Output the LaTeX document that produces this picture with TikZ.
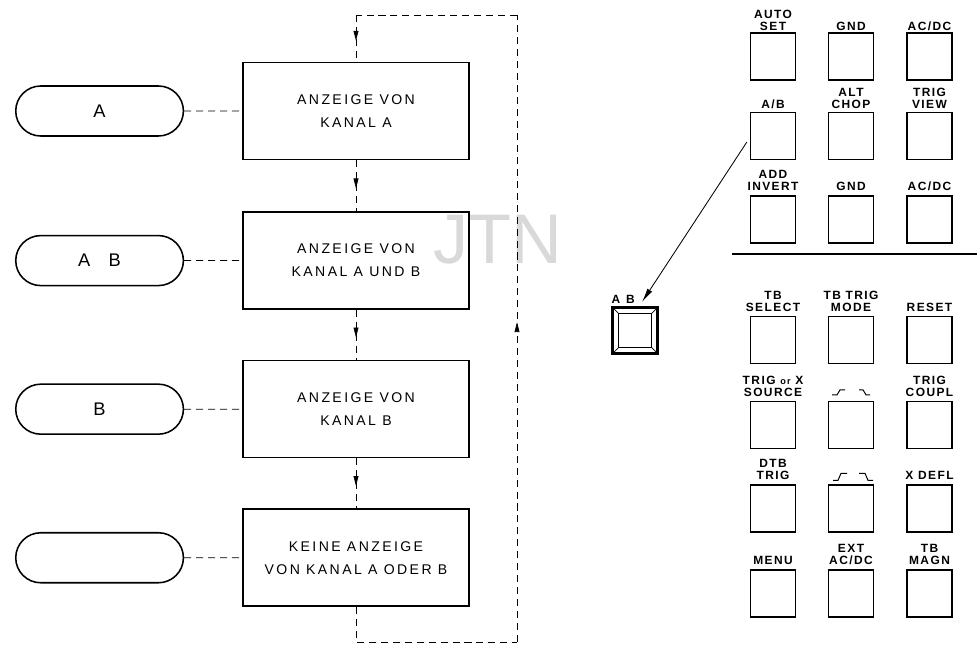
\documentclass[tikz,border=0pt]{standalone}
\usepackage{fontspec}
\setmainfont{Liberation Sans}
\newfontfamily\boxfont[LetterSpace=17]{Liberation Sans}
\newfontfamily\keyfont[LetterSpace=12]{Liberation Sans}
\usetikzlibrary{arrows.meta,positioning,shapes.misc,decorations.markings}

\begin{document}
\begin{tikzpicture}[
    x=0.025cm, y=0.025cm,
    >=Stealth,
    pill/.style={draw, rounded rectangle, line width=1.1pt, minimum width=4.425cm,
      minimum height=1.25cm, font=\fontsize{13}{15}\selectfont},
    flowbox/.style={draw, line width=1.1pt, minimum width=5.65cm, minimum height=2.425cm,
      align=center, font=\boxfont\fontsize{10}{16.4}\selectfont},
    dline/.style={dash pattern=on 5pt off 3.5pt, line width=0.5pt},
    midarrow/.style={postaction={decorate}, decoration={markings,
      mark=at position #1 with {\arrow{Triangle[length=7pt,width=3.5pt]}}}},
    key/.style={draw, line width=0.9pt, minimum width=1.125cm, minimum height=1.175cm},
    keylbl/.style={font=\keyfont\bfseries\fontsize{8.5}{8.7}\selectfont, align=center, inner sep=0pt},
    wave/.style={line width=0.7pt},
    pointer/.style={-{Latex[length=10pt,width=4pt]}, line width=0.6pt},
  ]
    \useasboundingbox (0,0) rectangle (977,645);

    % Watermark
    \node[text=black!15, font=\fontsize{50}{50}\selectfont] (wm) at (498,405) {JTN};

    % Display boxes
    \node[flowbox] (b1) at (356,534) {ANZEIGE VON\\KANAL A};
    \node[flowbox, below=1.275cm of b1] (b2) {ANZEIGE VON\\KANAL A UND B};
    \node[flowbox, below=1.25cm of b2] (b3) {ANZEIGE VON\\KANAL B};
    \node[flowbox, below=1.25cm of b3] (b4) {KEINE ANZEIGE\\VON KANAL A ODER B};

    % Key states
    \node[pill, left=1.45cm of b1] (p1) {A};
    \node[pill, left=1.45cm of b2] (p2) {A\quad B};
    \node[pill, left=1.45cm of b3] (p3) {B};
    \node[pill, left=1.45cm of b4] (p4) {};

    \draw[dline] (p1) -- (b1);
    \draw[dline] (p2) -- (b2);
    \draw[dline] (p3) -- (b3);
    \draw[dline] (p4) -- (b4);

    % Sequence
    \draw[dline, midarrow=0.55] (b1) -- (b2);
    \draw[dline, midarrow=0.55] (b2) -- (b3);
    \draw[dline, midarrow=0.55] (b3) -- (b4);

    % Return loop
    \coordinate (top) at (356,630);
    \coordinate (tr) at (517,630);
    \coordinate (br) at (517,3);
    \coordinate (bot) at (356,3);
    \draw[dline] (b4) -- (bot) -- (br);
    \draw[dline, midarrow=0.51] (br) -- (tr);
    \draw[dline] (tr) -- (top);
    \draw[dline, midarrow=0.55] (top) -- (b1);

    % Upper key block
    \node[key] (k11) at (773,588.5) {};
    \node[key] (k12) at (851,588.5) {};
    \node[key] (k13) at (929.5,588.5) {};
    \node[key] (k21) at (773,509) {};
    \node[key] (k22) at (851,509) {};
    \node[key] (k23) at (929.5,509) {};
    \node[key] (k31) at (773,425.5) {};
    \node[key] (k32) at (851,425.5) {};
    \node[key] (k33) at (929.5,425.5) {};

    \node[keylbl, above=1pt of k11] (t11) {AUTO\\SET};
    \node[keylbl, above=1pt of k12] (t12) {GND};
    \node[keylbl, above=1pt of k13] (t13) {AC/DC};
    \node[keylbl, above=2.2pt of k21] (t21) {A/B};
    \node[keylbl, above=2.2pt of k22] (t22) {ALT\\CHOP};
    \node[keylbl, above=2.2pt of k23] (t23) {TRIG\\VIEW};
    \node[keylbl, above=3pt of k31] (t31) {ADD\\INVERT};
    \node[keylbl, above=3pt of k32] (t32) {GND};
    \node[keylbl, above=3pt of k33] (t33) {AC/DC};

    \coordinate (sepl) at (732,391);
    \coordinate (sepr) at (977,391);
    \draw[line width=0.8pt] (sepl) -- (sepr);

    % Lower key block
    \node[key] (k41) at (773,305) {};
    \node[key] (k42) at (851,305) {};
    \node[key] (k43) at (929.5,305) {};
    \node[key] (k51) at (773,220) {};
    \node[key] (k52) at (851,220) {};
    \node[key] (k53) at (929.5,220) {};
    \node[key] (k61) at (773,136.5) {};
    \node[key] (k62) at (851,136.5) {};
    \node[key] (k63) at (929.5,136.5) {};
    \node[key] (k71) at (773,51.5) {};
    \node[key] (k72) at (851,51.5) {};
    \node[key] (k73) at (929.5,51.5) {};

    \node[keylbl, above=3pt of k41] (t41) {TB\\SELECT};
    \node[keylbl, above=3pt of k42] (t42) {TB TRIG\\MODE};
    \node[keylbl, above=3pt of k43] (t43) {RESET};
    \node[keylbl, above=3pt of k51] (t51) {TRIG {\fontsize{6.5}{8}\selectfont or} X\\SOURCE};
    \node[keylbl, above=3pt of k53] (t53) {TRIG\\COUPL};
    \node[keylbl, above=3pt of k61] (t61) {DTB\\TRIG};
    \node[keylbl, above=3pt of k63] (t63) {X DEFL};
    \node[keylbl, above=3pt of k71] (t71) {MENU};
    \node[keylbl, above=3pt of k72] (t72) {EXT\\AC/DC};
    \node[keylbl, above=3pt of k73] (t73) {TB\\MAGN};

    % Slope symbols
    \draw[wave] ([shift={(-19,6)}]k52.north) -- ++(5,0) -- ++(3,5) -- ++(5,0);
    \draw[wave] ([shift={(8,11)}]k52.north) -- ++(4,0) -- ++(3,-5) -- ++(4,0);
    \draw[wave] ([shift={(-18,4)}]k62.north) -- ++(5,0) -- ++(3,7) -- ++(6,0);
    \draw[wave] ([shift={(8,11)}]k62.north) -- ++(6,0) -- ++(3,-7) -- ++(5,0);

    % A B key, enlarged
    \node[key, minimum width=1.15cm, line width=1pt] (ab) at (635,314.5) {};
    \draw[line width=0.5pt] ([shift={(2.5,2.5)}]ab.south west) rectangle ([shift={(-2.5,-2.5)}]ab.north east);
    \draw[line width=0.6pt] ([shift={(7,7)}]ab.south west) rectangle ([shift={(-7,-7)}]ab.north east);
    \draw[line width=0.5pt] ([shift={(2.5,2.5)}]ab.south west) -- ++(4.5,4.5)
      ([shift={(-2.5,2.5)}]ab.south east) -- ++(-4.5,4.5)
      ([shift={(2.5,-2.5)}]ab.north west) -- ++(4.5,-4.5)
      ([shift={(-2.5,-2.5)}]ab.north east) -- ++(-4.5,-4.5);
    \node[keylbl, anchor=south west] (abl) at ([yshift=2pt]ab.north west) {A\enspace B};

    \coordinate (abtip) at (642,343);
    \draw[pointer] ([shift={(-3,-6)}]k21.west) -- (abtip);

  \end{tikzpicture}
\end{document}
